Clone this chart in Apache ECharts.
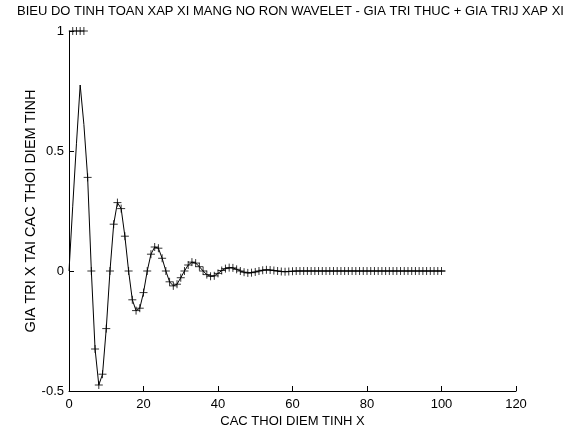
<!DOCTYPE html>
<html>
<head>
<meta charset="utf-8">
<script src="https://cdn.jsdelivr.net/npm/echarts@6/dist/echarts.min.js"></script>
<style>
html, body { margin: 0; padding: 0; background: #fff; }
#chart { width: 573px; height: 429px; }
</style>
</head>
<body>
<div id="chart"></div>
<script>
// gia tri thuc, x = 0..101
var trueY = [
    0, 0.27, 0.53, 0.775, 0.61, 0.39, 0.0, -0.325, -0.475, -0.43,
    -0.24, 0.0, 0.195, 0.285, 0.26, 0.145, 0.0, -0.12, -0.165, -0.155,
    -0.09, 0.0, 0.07, 0.10, 0.095, 0.053, 0.0, -0.045, -0.062, -0.055,
    -0.028, 0.0, 0.025, 0.037, 0.033, 0.018, 0.0, -0.015, -0.022, -0.02,
    -0.01, 0.002, 0.01, 0.014, 0.013, 0.007, 0.0, -0.005, -0.008, -0.007,
    -0.004, 0.0, 0.003, 0.005, 0.004, 0.002, 0.0, -0.002, -0.003, -0.002,
    -0.001, 0, 0, 0, 0, 0, 0, 0, 0, 0,
    0, 0, 0, 0, 0, 0, 0, 0, 0, 0,
    0, 0, 0, 0, 0, 0, 0, 0, 0, 0,
    0, 0, 0, 0, 0, 0, 0, 0, 0, 0,
    0, 0
];
// gia tri xap xi, x = 1..101
var approxY = [
    1, 1, 1, 1, 0.39, 0.0, -0.325, -0.475, -0.43,
    -0.24, 0.0, 0.195, 0.285, 0.26, 0.145, 0.0, -0.12, -0.165, -0.155,
    -0.09, 0.0, 0.07, 0.10, 0.095, 0.053, 0.0, -0.045, -0.062, -0.055,
    -0.028, 0.0, 0.025, 0.037, 0.033, 0.018, 0.0, -0.015, -0.022, -0.02,
    -0.01, 0.002, 0.01, 0.014, 0.013, 0.007, 0.0, -0.005, -0.008, -0.007,
    -0.004, 0.0, 0.003, 0.005, 0.004, 0.002, 0.0, -0.002, -0.003, -0.002,
    -0.001, 0, 0, 0, 0, 0, 0, 0, 0, 0,
    0, 0, 0, 0, 0, 0, 0, 0, 0, 0,
    0, 0, 0, 0, 0, 0, 0, 0, 0, 0,
    0, 0, 0, 0, 0, 0, 0, 0, 0, 0,
    0
];
var xTicks = [0, 20, 40, 60, 80, 100, 120];
var yTicks = [-0.5, 0, 0.5, 1];

var lineData = [];
for (var i = 0; i < trueY.length; i++) {
    lineData.push([i, trueY[i]]);
}
var markData = [];
for (var j = 0; j < approxY.length; j++) {
    markData.push([j + 1, approxY[j]]);
}

var fontName = 'Liberation Sans';

var option = {
    backgroundColor: '#fff',
    animation: false,
    title: {
        text: 'BIEU DO TINH TOAN XAP XI MANG NO RON WAVELET - GIA TRI THUC + GIA TRIJ XAP XI',
        left: 17,
        top: 5,
        padding: 0,
        textStyle: { color: '#000', fontFamily: fontName, fontSize: 13, fontWeight: 'normal' }
    },
    grid: { left: 69, right: 57, top: 31, bottom: 38, outerBoundsMode: 'none' },
    xAxis: {
        type: 'value',
        min: xTicks[0],
        max: xTicks[xTicks.length - 1],
        interval: xTicks[1] - xTicks[0],
        name: 'CAC THOI DIEM TINH X',
        nameLocation: 'middle',
        nameGap: 24,
        nameMoveOverlap: false,
        nameTextStyle: { color: '#000', fontFamily: fontName, fontSize: 13 },
        axisLine: { onZero: false, lineStyle: { color: '#000', width: 1 } },
        axisTick: { inside: true, length: 5, lineStyle: { color: '#000' } },
        axisLabel: { color: '#000', fontFamily: fontName, fontSize: 13, margin: 7 },
        splitLine: { show: false }
    },
    yAxis: {
        type: 'value',
        min: yTicks[0],
        max: yTicks[yTicks.length - 1],
        interval: yTicks[1] - yTicks[0],
        name: 'GIA TRI X TAI CAC THOI DIEM TINH',
        nameLocation: 'middle',
        nameGap: 31,
        nameMoveOverlap: false,
        nameTextStyle: { color: '#000', fontFamily: fontName, fontSize: 14.5 },
        axisLine: { show: true, onZero: false, lineStyle: { color: '#000', width: 1 } },
        axisTick: { show: true, inside: true, length: 5, lineStyle: { color: '#000' } },
        axisLabel: { color: '#000', fontFamily: fontName, fontSize: 13, margin: 5 },
        splitLine: { show: false }
    },
    series: [
        {
            name: 'GIA TRI THUC',
            type: 'line',
            data: lineData,
            showSymbol: false,
            lineStyle: { color: '#000', width: 1 },
            itemStyle: { color: '#000' }
        },
        {
            name: 'GIA TRI XAP XI',
            type: 'scatter',
            data: markData,
            symbol: 'path://M0,4L8,4M4,0L4,8',
            symbolSize: 8,
            itemStyle: { color: 'none', borderColor: '#000', borderWidth: 1 }
        }
    ]
};

var myChart = echarts.init(document.getElementById('chart'));
myChart.setOption(option);
</script>
</body>
</html>
